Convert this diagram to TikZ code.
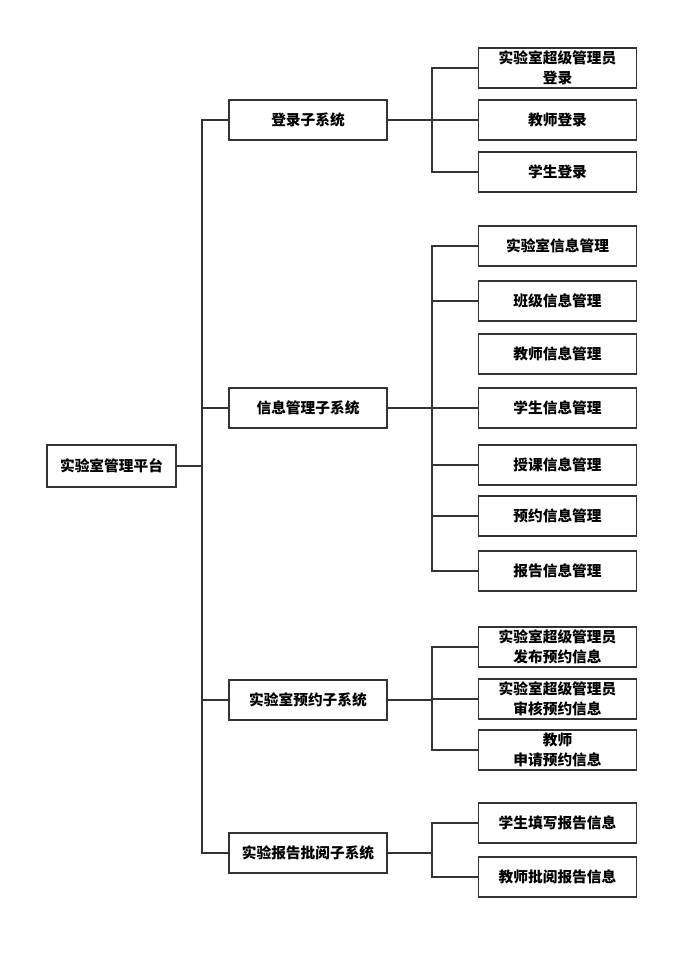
\documentclass[tikz,border=0pt]{standalone}
\usepackage{fontspec}
\newfontfamily\cjk{Noto Sans CJK SC}

\begin{document}
\begin{tikzpicture}[
    x=1pt, y=-1pt,
    box/.style={draw=black!80, line width=1.6pt, fill=white,
        minimum width=158pt, minimum height=40pt, inner sep=0pt,
        align=center, font=\cjk\bfseries\fontsize{14.7}{19.5}\selectfont},
    link/.style={draw=black!80, line width=1.6pt}
]

% Define columns
\def\colRoot{111.5}
\def\colSub{308}
\def\colLeaf{557.5}
\def\colTrunk{202}
\def\colFork{432}

\useasboundingbox (0,0) rectangle (699,959);

% --- Root ---
\node[box, minimum width=129pt, minimum height=42pt] (root) at (\colRoot,466) {实验室管理平台};

% --- Subsystems ---
\node[box] (login) at (\colSub,120) {登录子系统};
\node[box] (info) at (\colSub,408) {信息管理子系统};
\node[box] (reserve) at (\colSub,700) {实验室预约子系统};
\node[box] (report) at (\colSub,853) {实验报告批阅子系统};

% --- Login leaves ---
\node[box] (loginAdmin) at (\colLeaf,68) {实验室超级管理员\\登录};
\node[box] (loginTeacher) at (\colLeaf,120) {教师登录};
\node[box] (loginStudent) at (\colLeaf,172) {学生登录};

% --- Info leaves ---
\node[box] (infoLab) at (\colLeaf,246) {实验室信息管理};
\node[box] (infoClass) at (\colLeaf,301) {班级信息管理};
\node[box] (infoTeacher) at (\colLeaf,354) {教师信息管理};
\node[box] (infoStudent) at (\colLeaf,408) {学生信息管理};
\node[box] (infoCourse) at (\colLeaf,465) {授课信息管理};
\node[box] (infoReserve) at (\colLeaf,516) {预约信息管理};
\node[box] (infoReport) at (\colLeaf,571) {报告信息管理};

% --- Reservation leaves ---
\node[box] (resPublish) at (\colLeaf,647) {实验室超级管理员\\发布预约信息};
\node[box] (resCheck) at (\colLeaf,699) {实验室超级管理员\\审核预约信息};
\node[box] (resApply) at (\colLeaf,750) {教师\\申请预约信息};

% --- Report leaves ---
\node[box] (repWrite) at (\colLeaf,823) {学生填写报告信息};
\node[box] (repReview) at (\colLeaf,877) {教师批阅报告信息};

% --- Trunk from root to subsystems ---
\coordinate (trunk) at (\colTrunk,466);
\draw[link] (root.east) -- (trunk);
\draw[link] (trunk) |- (login.west);
\draw[link] (trunk) |- (info.west);
\draw[link] (trunk) |- (reserve.west);
\draw[link] (trunk) |- (report.west);

% --- Forks from subsystems to leaves ---
\coordinate (loginFork) at (\colFork,120);
\draw[link] (login.east) -- (loginFork);
\draw[link] (loginFork) |- (loginAdmin.west);
\draw[link] (loginFork) |- (loginTeacher.west);
\draw[link] (loginFork) |- (loginStudent.west);

\coordinate (infoFork) at (\colFork,408);
\draw[link] (info.east) -- (infoFork);
\draw[link] (infoFork) |- (infoLab.west);
\draw[link] (infoFork) |- (infoClass.west);
\draw[link] (infoFork) |- (infoStudent.west);
\draw[link] (infoFork) |- (infoCourse.west);
\draw[link] (infoFork) |- (infoReserve.west);
\draw[link] (infoFork) |- (infoReport.west);

\coordinate (resFork) at (\colFork,700);
\draw[link] (reserve.east) -- (resFork);
\draw[link] (resFork) |- (resPublish.west);
\draw[link] (resFork) |- (resCheck.west);
\draw[link] (resFork) |- (resApply.west);

\coordinate (repFork) at (\colFork,853);
\draw[link] (report.east) -- (repFork);
\draw[link] (repFork) |- (repWrite.west);
\draw[link] (repFork) |- (repReview.west);

\end{tikzpicture}
\end{document}
